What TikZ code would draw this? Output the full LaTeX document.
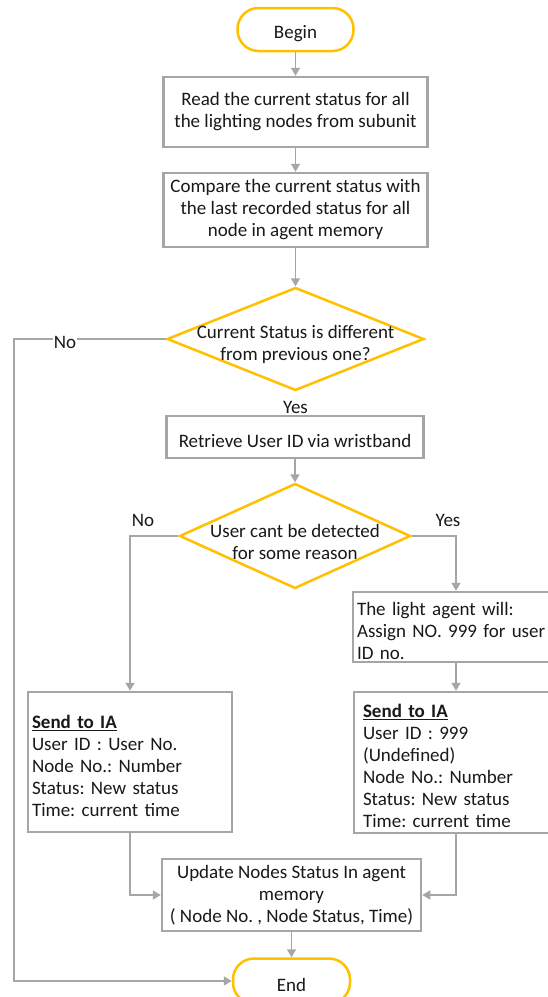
\documentclass[tikz,border=0pt]{standalone}
\usepackage{fontspec}
\setmainfont{Carlito}
\usetikzlibrary{shapes.geometric,arrows.meta}
\definecolor{gold}{HTML}{FFC000}
\definecolor{bgray}{HTML}{A6A6A6}
\definecolor{lgray}{HTML}{A6A6A6}
\begin{document}
\begin{tikzpicture}[x=1pt,y=-1pt,
  every node/.style={font=\fontsize{19}{22}\selectfont\frenchspacing, text=black!90},
  lower/.style={execute at begin node={\rule{0pt}{21pt}}},
  lowermore/.style={execute at begin node={\rule{0pt}{28pt}}},
  term/.style={draw=gold, line width=2.5pt, rounded corners=21pt, minimum width=116pt, minimum height=43pt, inner sep=0pt, fill=white, lower},
  proc/.style={draw=bgray, line width=2.5pt, inner sep=0pt, fill=white, align=center, lower},
  dia/.style={diamond, draw=gold, line width=2.5pt, inner sep=0pt},
  conn/.style={draw=lgray, line width=1.5pt, -{Triangle[length=8pt,width=9pt]}},
  lab/.style={inner sep=1pt}
]
\useasboundingbox (0,0) rectangle (547,997);
\fill[white] (0,0) rectangle (547,997);

\node[term] (begin) at (295.5,29.5) {Begin};
\node[proc, minimum width=264pt, minimum height=70pt] (read) at (295.5,112) {Read the current status for all\\the lighting nodes from subunit};
\node[proc, minimum width=264pt, minimum height=74pt] (cmp) at (295.5,210) {Compare the current status with\\the last recorded status for all\\node in agent memory};
\node[dia, minimum width=257pt, minimum height=103pt] (d1) at (295.5,339) {};
\node[align=center] (d1t) at (295.5,344) {Current Status is different\\from previous one?};
\node[lab] (yes1) at (295.5,407) {Yes};
\node[proc, minimum width=257pt, minimum height=42pt] (ret) at (295,437) {Retrieve User ID via wristband};
\node[dia, minimum width=231pt, minimum height=105pt] (d2) at (295,536) {};
\node[align=center] (d2t) at (295,542) {User cant be detected\\for some reason};
\node[lab] (no2) at (143,520) {No};
\node[lab] (yes2) at (448,520) {Yes};
\node[proc, minimum width=206pt, minimum height=70pt, text width=198pt, align=left] (agent) at (456,627) {The light agent will:\\Assign NO. 999 for user\\ID no.};
\node[proc, minimum width=204pt, minimum height=140pt, text width=196pt, align=left] (sendL) at (130,762) {\textbf{\underline{Send to IA}}\\User ID : User No.\\Node No.: Number\\Status: New status\\Time: current time};
\node[proc, minimum width=204pt, minimum height=141pt, text width=186pt, align=left] (sendR) at (456,762.5) {\textbf{\underline{Send to IA}}\\User ID : 999\\(Undefined)\\Node No.: Number\\Status: New status\\Time: current time};
\node[proc, lowermore, minimum width=259pt, minimum height=72pt] (upd) at (291.5,895) {Update Nodes Status In agent\\memory\\( Node No. , Node Status, Time)};
\node[term, minimum width=117pt, minimum height=45pt] (end) at (291.5,981) {End};

\draw[conn] (begin.south) -- (read.north);
\draw[conn] (read.south) -- (cmp.north);
\draw[conn] (cmp.south) -- (d1.north);
\draw[conn] (ret.south) -- (d2.north);
\draw[conn] (d2.west) -| (sendL.north);
\draw[conn] (d2.east) -| (agent.north);
\draw[conn] (agent.south) -- (sendR.north);
\draw[conn] (sendL.south) |- (upd.west);
\draw[conn] (sendR.south) |- (upd.east);
\draw[conn] (upd.south) -- (end.north);
\coordinate (c1) at (14,339);
\coordinate (c2) at (14,981);
\draw[conn] (d1.west) -- (c1) -- (c2) -- (end.west);
\node[lab, fill=white] (no1) at (65,342) {No};
\end{tikzpicture}
\end{document}
